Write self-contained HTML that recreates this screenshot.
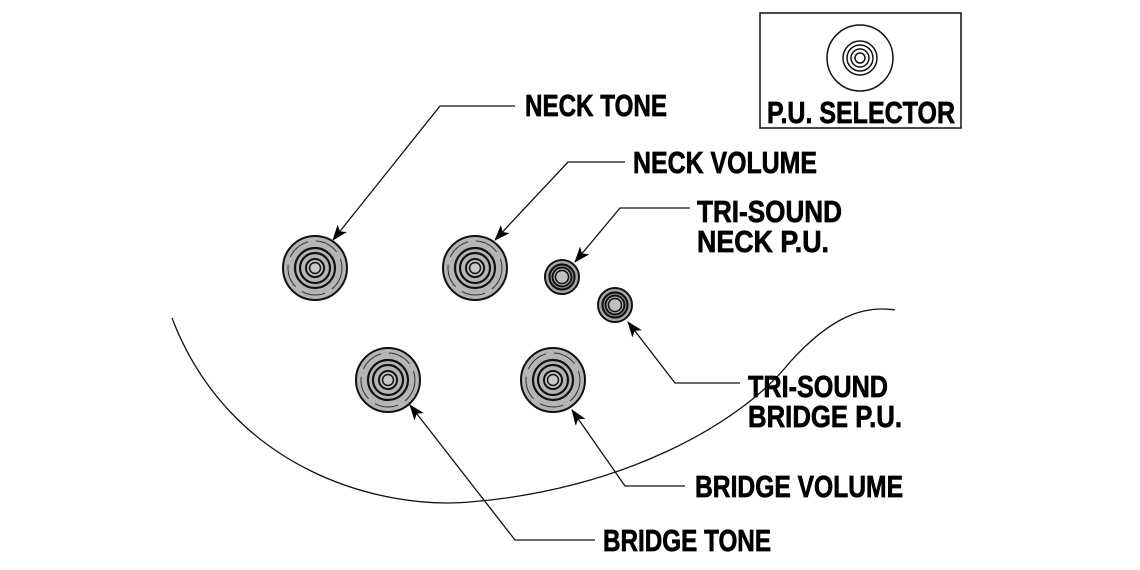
<!DOCTYPE html>
<html><head><style>html,body{margin:0;padding:0;background:#fff}svg{display:block}</style></head>
<body>
<svg width="1140" height="570" viewBox="0 0 1140 570" xmlns="http://www.w3.org/2000/svg">
<defs>
<g id="knob">
<circle r="32" fill="#b5b5b5" stroke="#111" stroke-width="2"/>
<circle r="27" fill="none" stroke="#333" stroke-width="1" stroke-dasharray="24 8"/>
<circle r="20" fill="none" stroke="#111" stroke-width="2.2"/>
<circle r="15" fill="none" stroke="#111" stroke-width="2.2"/>
<circle r="9" fill="#c8c8c8" stroke="#111" stroke-width="2"/>
<circle r="5.5" fill="none" stroke="#111" stroke-width="1.5"/>
</g>
<g id="small">
<circle r="17" fill="#a8a8a8" stroke="#111" stroke-width="2"/>
<circle r="12.5" fill="none" stroke="#111" stroke-width="2.2"/>
<circle r="9.5" fill="none" stroke="#111" stroke-width="2"/>
<circle r="6.5" fill="#c0c0c0" stroke="#111" stroke-width="1.5"/>
</g>
<marker id="ah" markerWidth="16" markerHeight="12" refX="15" refY="6" orient="auto" markerUnits="userSpaceOnUse">
<path d="M0,0 L16,6 L0,12 L4,6 Z" fill="#000"/>
</marker>
</defs>
<path d="M172,318 C230,470 380,510 470,502 C620,490 740,425 790,362 C830,318 862,305 895,310" fill="none" stroke="#111" stroke-width="1.3"/>
<rect x="760" y="13" width="201" height="115" fill="#fff" stroke="#111" stroke-width="1.5"/>
<circle cx="860" cy="58" r="33" fill="#fff" stroke="#111" stroke-width="1.5"/>
<circle cx="860" cy="58" r="17" fill="#fff" stroke="#111" stroke-width="1.5"/>
<circle cx="860" cy="58" r="13" fill="#fff" stroke="#111" stroke-width="1.5"/>
<circle cx="860" cy="58" r="9" fill="#fff" stroke="#111" stroke-width="1.5"/>
<circle cx="860" cy="58" r="5" fill="#fff" stroke="#111" stroke-width="1.5"/>
<use href="#knob" x="315" y="268"/>
<use href="#knob" x="475" y="268"/>
<use href="#knob" x="388" y="380"/>
<use href="#knob" x="553" y="380"/>
<use href="#small" x="562" y="277"/>
<use href="#small" x="615" y="305"/>
<g fill="none" stroke="#111" stroke-width="1.3" marker-end="url(#ah)">
<polyline points="515,106 440,106 333,240"/>
<polyline points="625,162 568,162 495,240"/>
<polyline points="690,208 620,208 575,262"/>
<polyline points="740,383 675,383 628,322"/>
<polyline points="685,486 625,486 572,410"/>
<polyline points="595,540 515,540 410,405"/>
</g>
<g font-family="Liberation Sans, sans-serif" font-weight="bold" font-size="31" fill="#000" stroke="#000" stroke-width="0.7">
<text x="525" y="116" textLength="142" lengthAdjust="spacingAndGlyphs">NECK TONE</text>
<text x="633" y="173" textLength="184" lengthAdjust="spacingAndGlyphs">NECK VOLUME</text>
<text x="697" y="222" textLength="145" lengthAdjust="spacingAndGlyphs">TRI-SOUND</text>
<text x="697" y="252" textLength="132" lengthAdjust="spacingAndGlyphs">NECK P.U.</text>
<text x="748" y="397" textLength="140" lengthAdjust="spacingAndGlyphs">TRI-SOUND</text>
<text x="748" y="427" textLength="154" lengthAdjust="spacingAndGlyphs">BRIDGE P.U.</text>
<text x="695" y="497" textLength="208" lengthAdjust="spacingAndGlyphs">BRIDGE VOLUME</text>
<text x="603" y="551" textLength="168" lengthAdjust="spacingAndGlyphs">BRIDGE TONE</text>
<text x="767" y="123" textLength="188" lengthAdjust="spacingAndGlyphs">P.U. SELECTOR</text>
</g>
</svg>
</body></html>
